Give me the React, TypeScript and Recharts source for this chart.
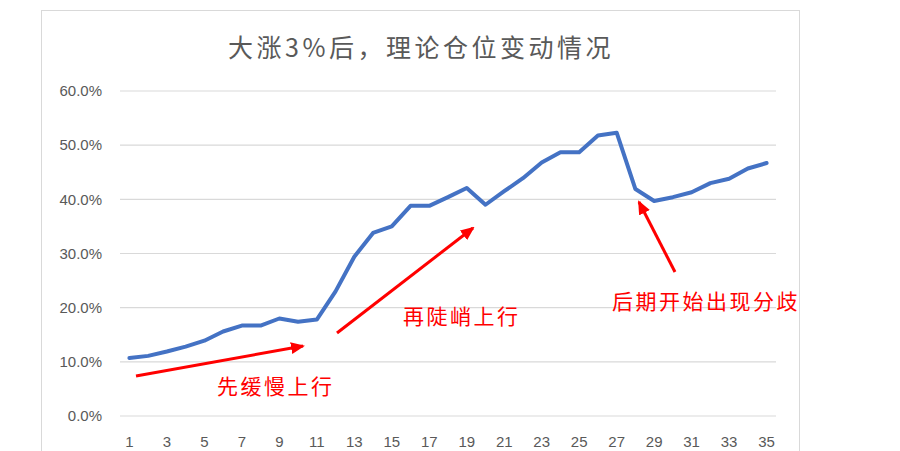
import React from 'react';
import { LineChart, Line, XAxis, YAxis, CartesianGrid, Customized } from 'recharts';

const periods: number[] = Array.from({ length: 35 }, (_, i) => i + 1);
const positionPct: number[] = [
  10.7, 11.1, 11.9, 12.8, 13.9, 15.6, 16.7, 16.7, 18.0, 17.4,
  17.8, 23.0, 29.4, 33.8, 35.0, 38.8, 38.8, 40.4, 42.1, 39.0,
  41.5, 43.9, 46.8, 48.7, 48.7, 51.8, 52.3, 41.9, 39.7, 40.4,
  41.3, 43.0, 43.8, 45.7, 46.7,
];
const yTicks: number[] = [0, 10, 20, 30, 40, 50, 60];
const title = '大涨3%后，理论仓位变动情况';
const notes: string[] = ['先缓慢上行', '再陡峭上行', '后期开始出现分歧'];

const data = periods.map((p, i) => ({ period: p, value: positionPct[i] }));

const TEXT_GRAY = '#595959';
const RED = '#FF0000';
const CJK = '"Noto Sans CJK SC", sans-serif';

const Overlay = () => (
  <g>
    <defs>
      <marker id="arrowHead" markerUnits="userSpaceOnUse" markerWidth="14" markerHeight="12" refX="12" refY="6" orient="auto">
        <path d="M0,0 L14,6 L0,12 Z" fill={RED} />
      </marker>
    </defs>
    <text x={421} y={46} textAnchor="middle" dominantBaseline="central" fontFamily={CJK} fontSize={25} letterSpacing={3.5} fill={TEXT_GRAY}>
      {title}
    </text>
    <line x1={136} y1={376} x2={303} y2={346} stroke={RED} strokeWidth={3} markerEnd="url(#arrowHead)" />
    <line x1={337} y1={333} x2={473} y2={228} stroke={RED} strokeWidth={3} markerEnd="url(#arrowHead)" />
    <line x1={675} y1={272} x2={639} y2={202} stroke={RED} strokeWidth={3} markerEnd="url(#arrowHead)" />
    <text x={217} y={385} dominantBaseline="central" fontFamily={CJK} fontSize={21} letterSpacing={2.5} fill={RED}>{notes[0]}</text>
    <text x={403} y={315} dominantBaseline="central" fontFamily={CJK} fontSize={21} letterSpacing={2.5} fill={RED}>{notes[1]}</text>
    <text x={612} y={300} dominantBaseline="central" fontFamily={CJK} fontSize={21} letterSpacing={2.5} fill={RED}>{notes[2]}</text>
  </g>
);

export default function App() {
  return (
    <div style={{ position: 'absolute', left: 0, top: 0, width: 900, height: 451, overflow: 'hidden', background: '#fff' }}>
      <div style={{ position: 'absolute', left: 41, top: 10, width: 757, height: 470, border: '1.5px solid #d9d9d9' }} />
      <div style={{ position: 'absolute', left: 0, top: 0 }}>
        <LineChart width={900} height={451} data={data} margin={{ top: 91, right: 124, bottom: 0, left: 40 }}>
          <CartesianGrid horizontal vertical={false} stroke="#d9d9d9" strokeWidth={1.2} />
          <XAxis
            dataKey="period"
            type="category"
            interval={1}
            axisLine={false}
            tickLine={false}
            tickSize={0}
            tickMargin={20}
            height={35}
            padding={{ left: 9.4, right: 9.4 }}
            tick={{ fill: TEXT_GRAY, fontSize: 15, fontFamily: '"Liberation Sans", sans-serif' }}
          />
          <YAxis
            domain={[0, 60]}
            ticks={yTicks}
            width={80}
            axisLine={false}
            tickLine={false}
            tickSize={0}
            tickMargin={18}
            tickFormatter={(v: number) => v.toFixed(1) + '%'}
            tick={{ fill: TEXT_GRAY, fontSize: 15, fontFamily: '"Liberation Sans", sans-serif' }}
          />
          <Line
            type="linear"
            dataKey="value"
            stroke="#4472C4"
            strokeWidth={4}
            dot={false}
            activeDot={false}
            strokeLinejoin="round"
            strokeLinecap="round"
            isAnimationActive={false}
          />
          <Customized component={Overlay} />
        </LineChart>
      </div>
    </div>
  );
}
